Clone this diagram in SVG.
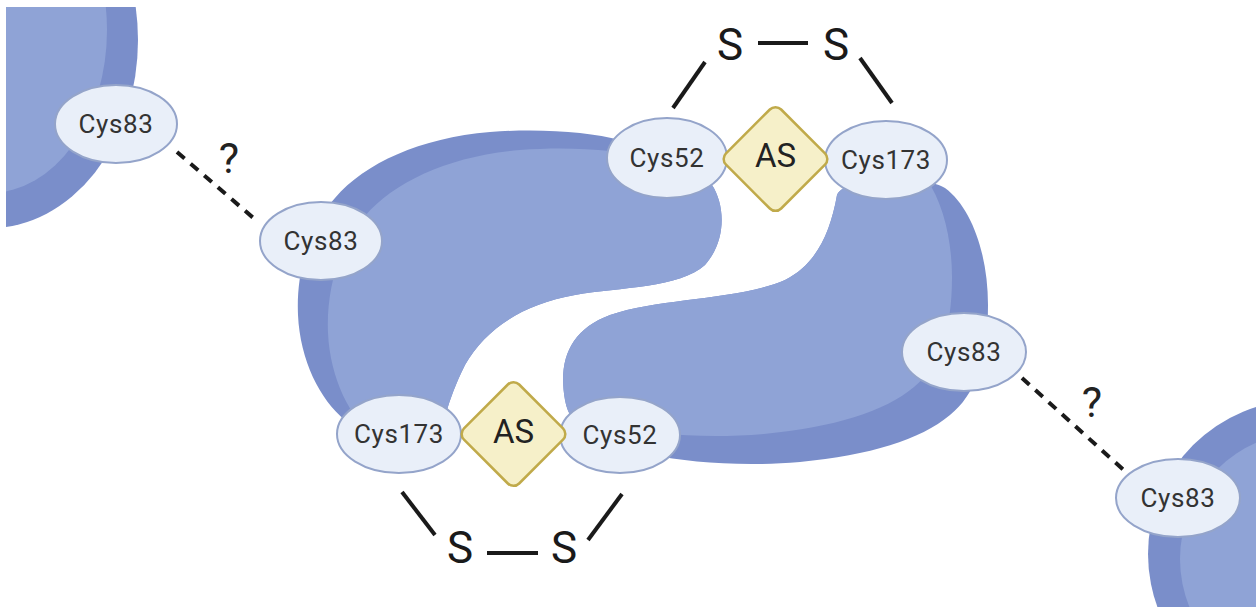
<svg xmlns="http://www.w3.org/2000/svg" width="1256" height="607" viewBox="0 0 1256 607">
  <style>
    .rim { fill: #7a8eca; }
    .body { fill: #8fa3d6; }
    .cys ellipse { fill: #e9eff9; stroke: #94a4ca; stroke-width: 2; }
    .cys text { font-family: Roboto, "Liberation Sans", sans-serif; font-size: 26px; fill: #333333; text-anchor: middle; letter-spacing: 0.6px; }
    .as rect { fill: #f6f0c9; stroke: #c0aa4a; stroke-width: 2.5; }
    .as text { font-family: Roboto, "Liberation Sans", sans-serif; font-size: 33px; fill: #222222; text-anchor: middle; }
    .sulfur text { font-family: Roboto, "Liberation Sans", sans-serif; font-size: 44px; fill: #1a1a1a; text-anchor: middle; }
    .bond { stroke: #1a1a1a; stroke-width: 4; fill: none; }
    .dash { stroke: #1a1a1a; stroke-width: 4; fill: none; stroke-dasharray: 10 8; }
    .q { font-family: Roboto, "Liberation Sans", sans-serif; font-size: 43px; fill: #222222; text-anchor: middle; }
  </style>
  <defs>
    <clipPath id="frame">
      <rect x="6" y="7" width="1250" height="600"/>
    </clipPath>
    <path id="leftLobe" d="M 345 420 C 320 400 300 360 298 315 C 296 270 310 225 335 198 C 365 163 420 138 490 132 C 540 128 590 132 620 140 C 660 150 700 160 712 185 C 725 205 727 240 705 265 C 680 288 620 287 575 295 C 520 305 485 330 465 365 C 455 385 450 400 447 410 C 430 445 370 445 345 420 Z"/>
    <path id="rightLobe" d="M 837 195 C 845 175 925 175 945 188 C 972 208 988 255 988 305 C 988 360 975 395 950 415 C 920 440 870 455 800 462 C 740 467 690 462 650 455 C 600 448 570 430 565 400 C 558 360 570 330 610 315 C 660 298 740 300 785 280 C 815 265 830 235 837 195 Z"/>
    <clipPath id="leftClip"><use href="#leftLobe"/></clipPath>
    <clipPath id="rightClip"><use href="#rightLobe"/></clipPath>
  </defs>

  <rect width="1256" height="607" fill="#ffffff"/>

  <!-- neighbouring protein, upper left -->
  <g id="protein-upper-left" clip-path="url(#frame)">
    <ellipse class="rim" cx="-10" cy="40" rx="148" ry="188"/>
    <ellipse class="body" cx="-10" cy="30" rx="117" ry="163"/>
  </g>

  <!-- neighbouring protein, lower right -->
  <g id="protein-lower-right">
    <circle class="rim" cx="1302" cy="554" r="154"/>
    <circle class="body" cx="1307" cy="559" r="127"/>
  </g>

  <!-- central dimer: two interlocking lobes -->
  <g id="dimer-left-lobe">
    <use href="#leftLobe" class="rim"/>
    <g clip-path="url(#leftClip)">
      <use href="#leftLobe" class="body" transform="translate(30,18)"/>
    </g>
  </g>
  <g id="dimer-right-lobe">
    <use href="#rightLobe" class="rim"/>
    <g clip-path="url(#rightClip)">
      <use href="#rightLobe" class="body" transform="translate(-36,-28)"/>
    </g>
  </g>

  <!-- bonds and putative contacts -->
  <g id="connectors">
    <line class="dash" x1="177" y1="152" x2="258" y2="222"/>
    <line class="dash" x1="1022" y1="378" x2="1127" y2="473"/>
    <line class="bond" x1="758" y1="43" x2="808" y2="43"/>
    <line class="bond" x1="705" y1="62" x2="673" y2="108"/>
    <line class="bond" x1="860" y1="58" x2="892" y2="103"/>
    <line class="bond" x1="487" y1="553" x2="538" y2="553"/>
    <line class="bond" x1="402" y1="492" x2="435" y2="535"/>
    <line class="bond" x1="622" y1="494" x2="588" y2="540"/>
    <text class="q" x="229" y="173">?</text>
    <text class="q" x="1092" y="417">?</text>
  </g>

  <!-- cysteine residues -->
  <g id="cys83-upper-left" class="cys">
    <ellipse cx="116" cy="124" rx="61" ry="39"/>
    <text x="116" y="133">Cys83</text>
  </g>
  <g id="cys83-left" class="cys">
    <ellipse cx="321" cy="241" rx="61" ry="39"/>
    <text x="321" y="250">Cys83</text>
  </g>
  <g id="cys52-top" class="cys">
    <ellipse cx="667" cy="158" rx="60" ry="40"/>
    <text x="667" y="167">Cys52</text>
  </g>
  <g id="cys173-top" class="cys">
    <ellipse cx="886" cy="160" rx="61" ry="39"/>
    <text x="886" y="169">Cys173</text>
  </g>
  <g id="cys83-right" class="cys">
    <ellipse cx="964" cy="352" rx="62" ry="39"/>
    <text x="964" y="361">Cys83</text>
  </g>
  <g id="cys83-lower-right" class="cys">
    <ellipse cx="1178" cy="498" rx="62" ry="39"/>
    <text x="1178" y="507">Cys83</text>
  </g>
  <g id="cys173-bottom" class="cys">
    <ellipse cx="399" cy="434" rx="62" ry="39"/>
    <text x="399" y="443">Cys173</text>
  </g>
  <g id="cys52-bottom" class="cys">
    <ellipse cx="620" cy="435" rx="60" ry="38"/>
    <text x="620" y="444">Cys52</text>
  </g>

  <!-- active sites -->
  <g id="as-top" class="as">
    <rect x="-39" y="-39" width="78" height="78" rx="8" transform="translate(775.5,159) rotate(45)"/>
    <text x="775.5" y="167">AS</text>
  </g>
  <g id="as-bottom" class="as">
    <rect x="-39" y="-39" width="78" height="78" rx="8" transform="translate(513.5,434) rotate(45)"/>
    <text x="513.5" y="443">AS</text>
  </g>

  <!-- sulfur atoms of the disulfide bridges -->
  <g id="s-top-left" class="sulfur"><text x="730" y="60">S</text></g>
  <g id="s-top-right" class="sulfur"><text x="836" y="60">S</text></g>
  <g id="s-bottom-left" class="sulfur"><text x="460" y="563">S</text></g>
  <g id="s-bottom-right" class="sulfur"><text x="564" y="563">S</text></g>
</svg>
